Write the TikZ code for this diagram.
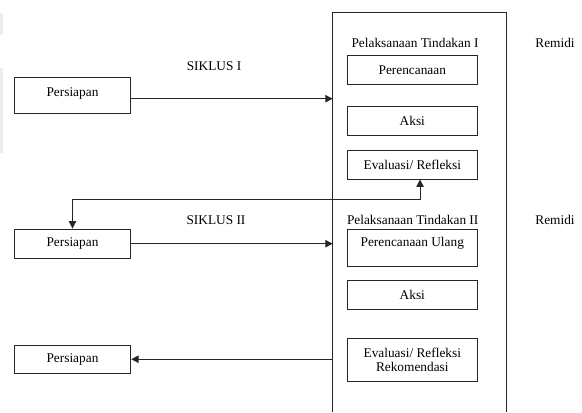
\documentclass[tikz,border=0pt]{standalone}
\usepackage{fontspec}
\setmainfont{Liberation Serif}
\usetikzlibrary{arrows.meta,calc}
\begin{document}
\begin{tikzpicture}[x=0.75pt,y=-0.75pt,
 box/.style={draw=black!85,line width=0.75pt,minimum width=87.3pt,minimum height=22pt,inner sep=0pt,font=\fontsize{10}{12}\selectfont},
 ibox/.style={box,minimum width=97.5pt},
 lbl/.style={inner sep=0pt,font=\fontsize{10}{12}\selectfont},
 line/.style={line width=0.75pt,draw=black!85},
 arr/.style={line,-{Triangle[length=5.5pt,width=5.5pt]}},
 darr/.style={line,{Triangle[length=5.5pt,width=5.5pt]}-{Triangle[length=5.5pt,width=5.5pt]}}]
\useasboundingbox[fill=white] (0,0) rectangle (582,412);
\fill[black!7] (0,13) rectangle (3,35);
\fill[black!7] (0,68) rectangle (3,153);
% open frame
\coordinate (fbl) at (332.7,412);
\coordinate (ftl) at (332.7,12);
\coordinate (ftr) at (506.7,12);
\coordinate (fbr) at (506.7,412);
\draw[line] (fbl) -- (ftl) -- (ftr) -- (fbr);
% left boxes
\node[box,minimum height=26.7pt,text depth=5pt] (p1) at (72.5,95.5) {Persiapan};
\node[box,minimum height=22pt] (p2) at (72.5,243.7) {Persiapan};
\node[box,minimum height=21.2pt] (p3) at (72.5,359.2) {Persiapan};
% inner boxes
\node[ibox,minimum height=21.5pt] (r1) at (412.3,70) {Perencanaan};
\node[ibox,minimum height=21.75pt] (a1) at (412.3,121.2) {Aksi};
\node[ibox,minimum height=21.75pt] (e1) at (412.3,164.5) {Evaluasi/ Refleksi};
\node[ibox,minimum height=27.75pt,text depth=8pt] (r2) at (412.3,247.5) {Perencanaan Ulang};
\node[ibox,minimum height=21.75pt] (a2) at (412.3,294.5) {Aksi};
\node[ibox,minimum height=32.5pt,align=center,font=\fontsize{10}{10}\selectfont] (e2) at (412.3,360) {Evaluasi/ Refleksi\\Rekomendasi};
% labels
\node[lbl] (s1) at (214,65.7) {SIKLUS I};
\node[lbl] (s2) at (216,220) {SIKLUS II};
\node[lbl] (t1) at (415,43.3) {Pelaksanaan Tindakan I};
\node[lbl] (t2) at (412.7,220) {Pelaksanaan Tindakan II};
\node[lbl] (m1) at (555,43.3) {Remidi};
\node[lbl] (m2) at (555,220) {Remidi};
% connectors
\draw[arr] ([yshift=-2.4pt]p1.east) -- ([yshift=-2.4pt]p1.east -| ftl);
\draw[darr] (p2.north) -- ++(0,-29) -| ([xshift=5.8pt]e1.south);
\draw[arr] (p2.east) -- (p2.east -| ftl);
\draw[arr] (p3.east -| ftl) -- (p3.east);
\end{tikzpicture}
\end{document}
